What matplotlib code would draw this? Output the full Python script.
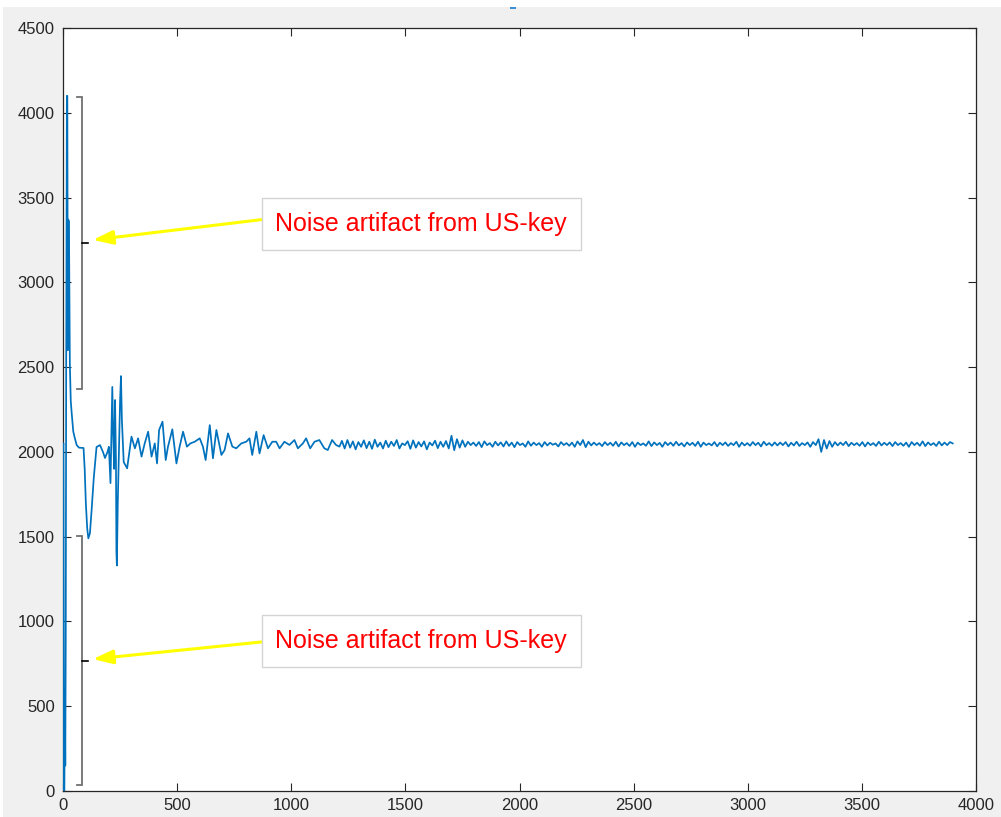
import numpy as np
import matplotlib
matplotlib.use("Agg")
import matplotlib.pyplot as plt
from matplotlib.patches import Rectangle

plt.rcParams['font.family'] = ['Liberation Sans', 'DejaVu Sans']

# ---- data: early transient (sample index, value) ----
early_x = [0, 2, 4, 6, 8, 10, 12, 14, 17, 19, 21, 23, 26, 30, 34, 38, 45, 52, 60, 70, 90,
           95, 100, 106, 111, 118, 125, 135, 147, 162, 175, 184, 195, 201, 205, 208, 212,
           216, 220, 224, 228, 232, 234, 236, 240, 245, 250, 254, 258, 266, 281]
early_y = [2040, 2050, 10, 0, 600, 150, 900, 2500, 4100, 4100, 2600, 3370, 3360, 2520, 2300,
           2230, 2120, 2080, 2040, 2025, 2023, 1900, 1700, 1550, 1490, 1520, 1650, 1850, 2029,
           2040, 2000, 1964, 2000, 2030, 1900, 1816, 2100, 2383, 2100, 1900, 2306, 1950, 1410,
           1330, 1700, 2000, 2300, 2447, 2188, 1940, 1903]

# ---- data: decaying ringing ----
ring_x = [300, 315, 329, 344, 358, 373, 388, 402, 412, 421, 436, 450, 460, 479, 497, 511,
          526, 543, 558, 577, 599, 613, 625, 643, 657, 672, 694, 708, 723, 742, 759, 781,
          803, 817, 829, 847, 861, 879, 898, 917, 934, 949, 970, 992, 1014, 1029, 1051,
          1065, 1083, 1102, 1123, 1145, 1160, 1179, 1196, 1211]
ring_y = [2090, 2021, 2080, 1972, 2050, 2119, 1972, 2050, 1932, 2129, 2178, 1952, 2031, 2133,
          1932, 2031, 2119, 2031, 2050, 2060, 2080, 2031, 1952, 2158, 1962, 2129, 1982, 2011,
          2109, 2031, 2021, 2050, 2060, 2080, 1982, 2119, 1991, 2099, 2021, 2060, 2060, 2021,
          2060, 2041, 2070, 2021, 2050, 2080, 2021, 2060, 2070, 2021, 2011, 2070, 2041, 2031]

# ---- data: steady tail, one sample every 12 indices from 1222 ----
tail_start = 1222
tail_step = 12
tail_y = [
    2065, 2020, 2070, 2025, 2062, 2015, 2058, 2030, 2068, 2022, 2060, 2018, 2072, 2030, 2055, 2020, 2066, 2028, 2060, 2035,
    2070, 2020, 2050, 2040, 2063, 2018, 2068, 2025, 2058, 2032, 2062, 2015, 2055, 2038, 2066, 2022, 2060, 2030, 2064, 2020,
    2095, 2010, 2075, 2025, 2068, 2030, 2060, 2040, 2055, 2035, 2058, 2028, 2062, 2040, 2052, 2030, 2060, 2038, 2056, 2032,
    2062, 2035, 2055, 2028, 2058, 2040, 2050, 2030, 2062, 2036, 2055, 2040, 2052, 2030, 2058, 2038, 2054, 2042, 2050, 2032,
    2058, 2040, 2052, 2036, 2055, 2030, 2062, 2040, 2070, 2028, 2060, 2038, 2055, 2040, 2052, 2034, 2058, 2040, 2054, 2036,
    2060, 2032, 2056, 2040, 2052, 2035, 2058, 2030, 2055, 2040, 2050, 2036, 2062, 2034, 2056, 2040, 2053, 2030, 2058, 2040,
    2055, 2036, 2060, 2038, 2052, 2032, 2056, 2040, 2054, 2035, 2060, 2030, 2055, 2040, 2050, 2038, 2058, 2033, 2054, 2040,
    2056, 2035, 2052, 2040, 2060, 2030, 2055, 2038, 2052, 2036, 2058, 2040, 2054, 2032, 2060, 2040, 2052, 2036, 2056, 2038,
    2055, 2040, 2058, 2032, 2054, 2038, 2060, 2035, 2052, 2040, 2056, 2030, 2058, 2040, 2075, 2000, 2070, 2020, 2064, 2030,
    2058, 2038, 2055, 2040, 2060, 2034, 2054, 2040, 2052, 2036, 2058, 2032, 2056, 2040, 2052, 2035, 2060, 2038, 2054, 2040,
    2056, 2034, 2058, 2040, 2052, 2036, 2055, 2030, 2058, 2040, 2054, 2036, 2062, 2034, 2056, 2040, 2052, 2035, 2060, 2038,
    2055, 2040, 2058, 2050,
]

x_ticks = [0, 500, 1000, 1500, 2000, 2500, 3000, 3500, 4000]
y_ticks = [0, 500, 1000, 1500, 2000, 2500, 3000, 3500, 4000, 4500]

label_text = "Noise artifact from US-key"
# bracket spans (y ranges) in data units
upper_span = (2371, 4095)
lower_span = (35, 1504)

tail_x = tail_start + tail_step * np.arange(len(tail_y))
sig_x = np.concatenate([early_x, ring_x, tail_x])
sig_y = np.concatenate([early_y, ring_y, tail_y])

W, H = 1001, 817
fig = plt.figure(figsize=(W / 100, H / 100), dpi=100, facecolor='#f0f0f0')
fig.patches.append(Rectangle((0, 1 - 7 / H), 1, 7 / H, transform=fig.transFigure,
                             facecolor='white', edgecolor='none', zorder=0))
fig.patches.append(Rectangle((0, 0), 3 / W, 1, transform=fig.transFigure,
                             facecolor='white', edgecolor='none', zorder=0))
fig.patches.append(Rectangle((510 / W, 1 - 9 / H), 6 / W, 2 / H, transform=fig.transFigure,
                             facecolor='#3a8fd6', edgecolor='none', zorder=1))

left, right, top, bottom = 63, 976, 28, 791
ax = fig.add_axes([left / W, 1 - bottom / H, (right - left) / W, (bottom - top) / H])
ax.set_facecolor('white')

ax.plot(sig_x, sig_y, color='#0072BD', lw=1.25, zorder=3)

ax.set_xlim(0, 4000)
ax.set_ylim(0, 4500)
ax.set_xticks(x_ticks)
ax.set_yticks(y_ticks)
ax.set_xticklabels([str(v) for v in x_ticks])
ax.set_yticklabels([str(v) for v in y_ticks])
for s in ax.spines.values():
    s.set_color('#262626')
    s.set_linewidth(0.9)
ax.tick_params(direction='in', length=6, width=0.8, color='#262626', top=True, right=True,
               labelcolor='#262626', labelsize=12)
ax.tick_params(axis='x', pad=5)
ax.tick_params(axis='y', pad=6)

# brackets
for (y0, y1) in (upper_span, lower_span):
    xb = 82
    ax.plot([62, xb, xb, 62], [y1, y1, y0, y0], color='#707070', lw=1.3, zorder=4,
            solid_joinstyle='miter')
    ym = (y0 + y1) / 2
    ax.plot([xb, 110], [ym, ym], color='black', lw=1.2, zorder=4)

# arrows + labels
arrows = [((131, 3250), (870, 3370)), ((131, 778), (870, 879))]
text_pos = [(1569, 3344), (1569, 885)]
for (tip, tail), (tx, ty) in zip(arrows, text_pos):
    ax.annotate('', xy=tip, xytext=tail, xycoords='data', textcoords='data',
                arrowprops=dict(arrowstyle='-|>,head_length=1.0,head_width=0.35',
                                color='#ffff00', lw=2.2, mutation_scale=12,
                                shrinkA=0, shrinkB=0), zorder=5)
    ax.text(tx, ty, label_text, ha='center', va='center', fontsize=18, color='#ff0000',
            bbox=dict(boxstyle='square,pad=0.55', fc='white', ec='#d4d4d4', lw=1.0), zorder=6)

fig.savefig('out.png', dpi=100, facecolor=fig.get_facecolor())
